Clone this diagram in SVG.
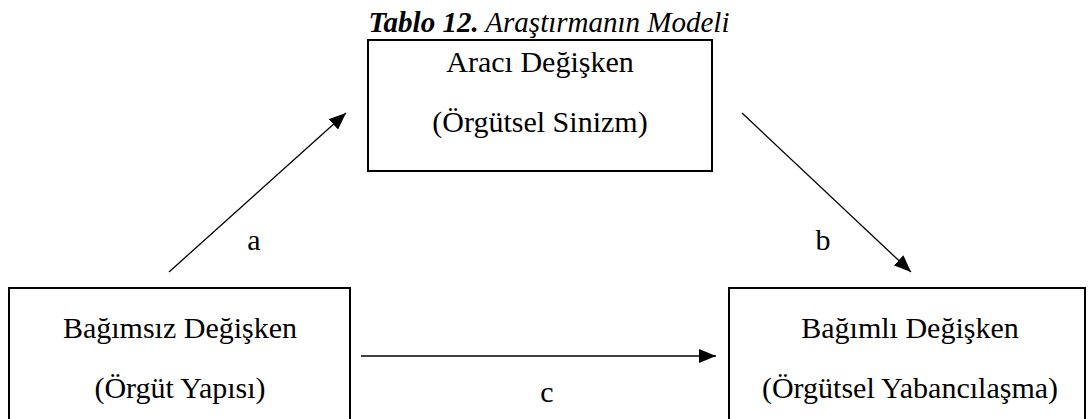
<svg xmlns="http://www.w3.org/2000/svg" width="1092" height="419" viewBox="0 0 1092 419">
  <style>
    .box { fill: #ffffff; stroke: #000000; stroke-width: 2; }
    .lbl { font-family: "Liberation Serif", "Times New Roman", serif; font-size: 30px; fill: #000000; text-anchor: middle; }
    .edge { stroke: #000000; stroke-width: 1.3; fill: none; marker-end: url(#arrow); }
    .cap { font-family: "Liberation Serif", "Times New Roman", serif; font-size: 29px; font-style: italic; fill: #000000; }
  </style>
  <defs>
    <marker id="arrow" viewBox="0 0 17 14" refX="17" refY="7" markerWidth="17" markerHeight="14" markerUnits="userSpaceOnUse" orient="auto">
      <path d="M0,0 L17,7 L0,14 Z" fill="#000000"/>
    </marker>
  </defs>
  <rect width="1092" height="419" fill="#ffffff"/>

  <!-- caption -->
  <text class="cap" x="549" y="32" text-anchor="middle"><tspan font-weight="bold">Tablo 12.</tspan> Araştırmanın Modeli</text>

  <!-- mediator -->
  <g id="node-mediator">
    <rect class="box" x="368" y="40" width="344" height="131"/>
    <text class="lbl" x="540" y="72">Aracı Değişken</text>
    <text class="lbl" x="540" y="132">(Örgütsel Sinizm)</text>
  </g>

  <!-- independent variable -->
  <g id="node-independent">
    <rect class="box" x="9" y="288" width="341" height="140"/>
    <text class="lbl" x="180" y="338">Bağımsız Değişken</text>
    <text class="lbl" x="180" y="398">(Örgüt Yapısı)</text>
  </g>

  <!-- dependent variable -->
  <g id="node-dependent">
    <rect class="box" x="729" y="288" width="356" height="140"/>
    <text class="lbl" x="910" y="338">Bağımlı Değişken</text>
    <text class="lbl" x="910" y="398">(Örgütsel Yabancılaşma)</text>
  </g>

  <!-- paths -->
  <g id="connectors">
    <line class="edge" x1="169" y1="272" x2="346" y2="113"/>
    <line class="edge" x1="742" y1="113" x2="911" y2="272"/>
    <line class="edge" x1="361" y1="356" x2="716" y2="356"/>
    <text class="lbl" x="254" y="250">a</text>
    <text class="lbl" x="823" y="250">b</text>
    <text class="lbl" x="547" y="402">c</text>
  </g>
</svg>
